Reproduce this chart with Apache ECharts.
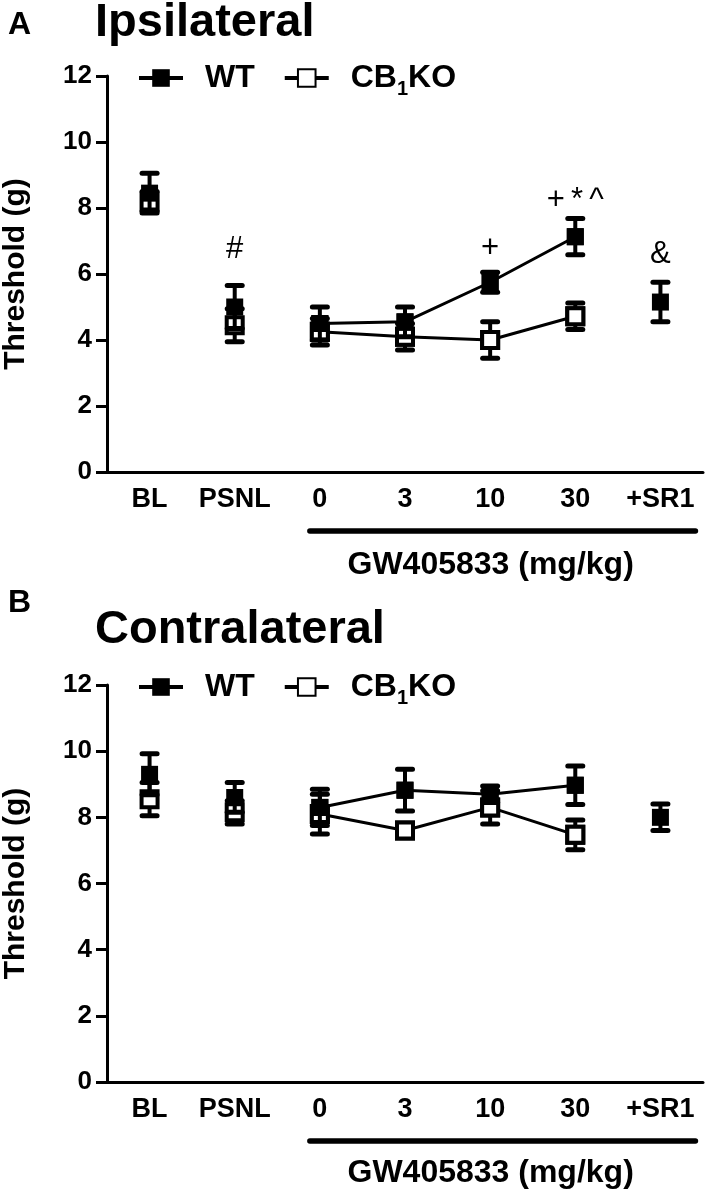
<!DOCTYPE html>
<html><head><meta charset="utf-8">
<script src="https://cdn.jsdelivr.net/npm/echarts@6/dist/echarts.min.js"></script>
<style>html,body{margin:0;padding:0;background:#fff}#c{width:709px;height:1194px}</style>
</head><body><div id="c"></div>
<script>
// ---------- data ----------
const categories = ['BL', 'PSNL', '0', '3', '10', '30', '+SR1'];
const yTickLabels = ['0', '2', '4', '6', '8', '10', '12'];
const connectedCats = ['0', '3', '10', '30'];
// Panel A: ipsilateral
const ipsiWT     = [8.45, 5.0, 4.5, 4.55, 5.75, 7.13, 5.15];
const ipsiWTerr  = [0.6, 0.65, 0.5, 0.45, 0.3, 0.55, 0.6];
const ipsiKO     = [8.2, 4.45, 4.25, 4.1, 4.0, 4.72, null];
const ipsiKOerr  = [0.3, 0.5, 0.4, 0.4, 0.55, 0.4, null];
// Panel B: contralateral
const contraWT    = [9.3, 8.6, 8.3, 8.82, 8.7, 8.97, 8.0];
const contraWTerr = [0.62, 0.45, 0.55, 0.63, 0.25, 0.58, 0.4];
const contraKO    = [8.55, 8.15, 8.1, 7.6, 8.3, 7.47, null];
const contraKOerr = [0.5, 0.35, 0.6, 0.2, 0.5, 0.45, null];
// significance marks (panel A)
const markCats  = ['PSNL', '10', '30', '+SR1'];
const markY     = [6.74, 6.77, 8.24, 6.6];
const markTexts = ['#', '+', '+\u2009*\u2009^', '&'];

// ---------- build ----------
const FONT = '"Liberation Sans", Arial, Helvetica, sans-serif';
const BLACK = '#000';

function errRender(params, api) {
  const x = api.value(0), m = api.value(1), e = api.value(2);
  const t = api.coord([x, m + e]), b = api.coord([x, m - e]);
  const hw = 7.5;
  return {
    type: 'group', children: [
      { type: 'line', shape: { x1: t[0], y1: t[1], x2: b[0], y2: b[1] }, style: { stroke: BLACK, lineWidth: 4 } },
      { type: 'line', shape: { x1: t[0] - hw, y1: t[1], x2: t[0] + hw, y2: t[1] }, style: { stroke: BLACK, lineWidth: 5, lineCap: 'round' } },
      { type: 'line', shape: { x1: b[0] - hw, y1: b[1], x2: b[0] + hw, y2: b[1] }, style: { stroke: BLACK, lineWidth: 5, lineCap: 'round' } }
    ]
  };
}

function panelSeries(g, wt, wtErr, ko, koErr, suffix) {
  const errData = (v, e) => v.map((m, i) => m == null ? null : [i, m, e[i]]).filter(d => d);
  const ptData = v => v.map((m, i) => m == null ? null : [i, m]).filter(d => d);
  const lineData = v => categories.map((c, i) => connectedCats.includes(c) ? v[i] : '-');
  const koStyle = { color: '#fff', borderColor: BLACK, borderWidth: 4, opacity: 1 };
  const wtStyle = { color: BLACK, borderColor: BLACK, borderWidth: 0, opacity: 1 };
  return [
    { type: 'custom', name: 'koerr' + suffix, xAxisIndex: g, yAxisIndex: g, renderItem: errRender, encode: { x: 0, y: 1 }, data: errData(ko, koErr), z: 2, silent: true },
    { type: 'line', name: 'CB1KO' + suffix, xAxisIndex: g, yAxisIndex: g, data: lineData(ko), symbol: 'rect', symbolSize: 16, showSymbol: true,
      lineStyle: { color: BLACK, width: 3 }, itemStyle: koStyle, z: 3, silent: true },
    { type: 'scatter', name: 'kopts' + suffix, xAxisIndex: g, yAxisIndex: g, data: ptData(ko), symbol: 'rect', symbolSize: 16, itemStyle: koStyle, z: 3, silent: true },
    { type: 'custom', name: 'wterr' + suffix, xAxisIndex: g, yAxisIndex: g, renderItem: errRender, encode: { x: 0, y: 1 }, data: errData(wt, wtErr), z: 4, silent: true },
    { type: 'line', name: 'WT' + suffix, xAxisIndex: g, yAxisIndex: g, data: lineData(wt), symbol: 'rect', symbolSize: 17, showSymbol: true,
      lineStyle: { color: BLACK, width: 3 }, itemStyle: wtStyle, z: 5, silent: true },
    { type: 'scatter', name: 'wtpts' + suffix, xAxisIndex: g, yAxisIndex: g, data: ptData(wt), symbol: 'rect', symbolSize: 17, itemStyle: wtStyle, z: 5, silent: true }
  ];
}

function xAxis(g) {
  return {
    type: 'category', gridIndex: g, data: categories, boundaryGap: true,
    axisLine: { lineStyle: { color: BLACK, width: 3 } },
    axisTick: { alignWithLabel: true, interval: 0, length: 12, lineStyle: { color: BLACK, width: 3 } },
    axisLabel: { interval: 0, color: BLACK, fontFamily: FONT, fontWeight: 'bold', fontSize: 27, margin: 14 },
    splitLine: { show: false }
  };
}
function yAxis(g) {
  return {
    type: 'value', gridIndex: g, min: 0, max: 12, interval: 2,
    name: 'Threshold (g)', nameLocation: 'middle', nameGap: 76,
    nameTextStyle: { color: BLACK, fontFamily: FONT, fontWeight: 'bold', fontSize: 30 },
    axisLine: { show: true, lineStyle: { color: BLACK, width: 3 } },
    axisTick: { show: true, length: 11, lineStyle: { color: BLACK, width: 3 } },
    axisLabel: { color: BLACK, fontFamily: FONT, fontWeight: 'bold', fontSize: 26, margin: 15,
      formatter: v => yTickLabels[Math.round(v / 2)] },
    splitLine: { show: false }
  };
}
function legend(top, suffix) {
  return {
    data: ['WT' + suffix, 'CB1KO' + suffix], left: 137, top: top, orient: 'horizontal', padding: 0,
    itemWidth: 44, itemHeight: 22, itemGap: 28, selectedMode: false,
    lineStyle: { width: 4, color: BLACK },
    formatter: n => n.trim() === 'CB1KO' ? 'CB{s|1}KO' : n.trim(),
    textStyle: { color: BLACK, fontFamily: FONT, fontWeight: 'bold', fontSize: 32, padding: [0, 0, 0, 17],
      rich: { s: { fontFamily: FONT, fontWeight: 'bold', fontSize: 20, verticalAlign: 'bottom', lineHeight: 42 } } }
  };
}

const marks = {
  type: 'scatter', name: 'marks', xAxisIndex: 0, yAxisIndex: 0, symbolSize: 1, z: 6, silent: true,
  itemStyle: { opacity: 0 },
  data: markCats.map((c, i) => ({ value: [categories.indexOf(c), markY[i]], name: markTexts[i] })),
  label: { show: true, position: 'inside', formatter: p => p.name, color: BLACK, opacity: 1, fontFamily: FONT, fontSize: 31 }
};

const option = {
  animation: false,
  backgroundColor: '#fff',
  grid: [
    { left: 107, width: 596, top: 76, height: 396, containLabel: false, outerBoundsMode: 'none' },
    { left: 107, width: 596, top: 685, height: 397, containLabel: false, outerBoundsMode: 'none' }
  ],
  xAxis: [xAxis(0), xAxis(1)],
  yAxis: [yAxis(0), yAxis(1)],
  legend: [legend(62, ''), legend(671, ' ')],
  series: [
    ...panelSeries(0, ipsiWT, ipsiWTerr, ipsiKO, ipsiKOerr, ''),
    ...panelSeries(1, contraWT, contraWTerr, contraKO, contraKOerr, ' '),
    marks
  ]
};

const chart = echarts.init(document.getElementById('c'));
chart.setOption(option);

function px(g, cat) { return chart.convertToPixel({ xAxisIndex: g }, cat); }
const gfx = [];
const title = (x, y, text, size) => gfx.push({ type: 'text', left: x, top: y, style: { text, fontFamily: FONT, fontWeight: 'bold', fontSize: size, fill: BLACK } });
title(8, 9, 'A', 32);
title(95, 0, 'Ipsilateral', 47);
title(8, 587, 'B', 32);
title(95, 607, 'Contralateral', 47);
[[0, 531, 565], [1, 1141, 1173]].forEach(([g, barY, txtY]) => {
  const x1 = px(g, '0') - 10, x2 = px(g, '+SR1') + 35;
  gfx.push({ type: 'line', shape: { x1, y1: barY, x2, y2: barY }, style: { stroke: BLACK, lineWidth: 5.5, lineCap: 'round' } });
  gfx.push({ type: 'text', x: (x1 + x2) / 2 - 12, y: txtY, style: { text: 'GW405833 (mg/kg)', fontFamily: FONT, fontWeight: 'bold', fontSize: 32, fill: BLACK, align: 'center', verticalAlign: 'middle' } });
});
chart.setOption({ graphic: gfx });
</script>
</body></html>
